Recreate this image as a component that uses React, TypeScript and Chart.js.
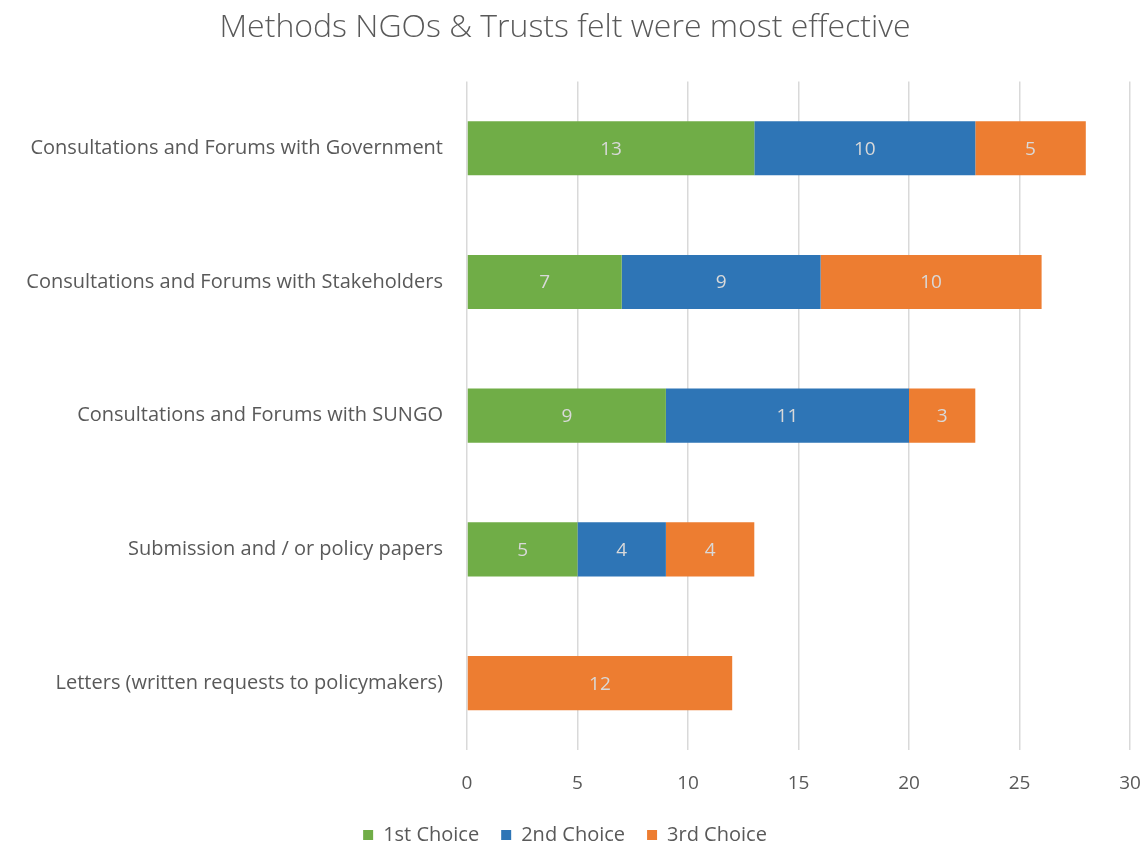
import { useEffect, useRef } from "react";
import { Chart, registerables } from "chart.js";

Chart.register(...registerables);

const title = "Methods NGOs & Trusts felt were most effective";
const categories = [
  "Consultations and Forums with Government",
  "Consultations and Forums with Stakeholders",
  "Consultations and Forums with SUNGO",
  "Submission and / or policy papers",
  "Letters (written requests to policymakers)",
];
const seriesNames = ["1st Choice", "2nd Choice", "3rd Choice"];
const firstChoice = [13, 7, 9, 5, 0];
const secondChoice = [10, 9, 11, 4, 0];
const thirdChoice = [5, 10, 3, 4, 12];
const xMin = 0;
const xMax = 30;
const xStep = 5;

const colors = ["#70AD47", "#2E75B6", "#ED7D31"];
const FONT = "'Open Sans', Lato, sans-serif";
const TEXT = "#595959";

const barLabels = {
  id: "barLabels",
  afterDatasetsDraw(chart: any) {
    const ctx = chart.ctx;
    ctx.save();
    ctx.font = `19px ${FONT}`;
    ctx.fillStyle = "#D9D9D9";
    ctx.textAlign = "center";
    ctx.textBaseline = "middle";
    chart.data.datasets.forEach((ds: any, i: number) => {
      const meta = chart.getDatasetMeta(i);
      meta.data.forEach((el: any, j: number) => {
        const v = ds.data[j];
        if (!v) return;
        ctx.fillText(String(v), (el.x + el.base) / 2, el.y + 1);
      });
    });
    ctx.restore();
  },
};

const legendShift = {
  id: "legendShift",
  afterLayout(chart: any) {
    const lg = chart.legend;
    if (lg) {
      lg.top += 9;
      lg.bottom += 9;
    }
  },
};

export default function App() {
  const ref = useRef<HTMLCanvasElement>(null);
  useEffect(() => {
    document.body.style.margin = "0";
    const chart = new Chart(ref.current!, {
      type: "bar",
      data: {
        labels: categories,
        datasets: [firstChoice, secondChoice, thirdChoice].map((d, i) => ({
          label: seriesNames[i],
          data: d,
          backgroundColor: colors[i],
          borderWidth: 0,
          categoryPercentage: 1,
          barPercentage: 0.405,
        })),
      },
      options: {
        indexAxis: "y",
        responsive: false,
        animation: false,
        layout: { padding: { left: 0, right: 18, top: 0, bottom: 0 } },
        scales: {
          x: {
            stacked: true,
            min: xMin,
            max: xMax,
            ticks: { stepSize: xStep, color: TEXT, font: { family: FONT, size: 19 }, padding: 22 },
            grid: { color: "#D9D9D9", lineWidth: 1.5, drawTicks: false },
            border: { display: false },
            afterFit: (s: any) => {
              s.height = 44;
              s.paddingLeft = 0;
              s.paddingRight = 0;
            },
          },
          y: {
            stacked: true,
            ticks: { color: TEXT, font: { family: FONT, size: 20 }, padding: 24 },
            grid: { display: false, drawTicks: false },
            border: { display: false },
            afterFit: (s: any) => {
              s.width = 467;
            },
          },
        },
        plugins: {
          title: {
            display: true,
            text: title,
            color: TEXT,
            font: { family: FONT, size: 32, weight: "300" as any },
            padding: { top: 9, bottom: 34 },
          },
          legend: {
            position: "bottom",
            labels: {
              color: TEXT,
              font: { family: FONT, size: 20 },
              boxWidth: 10,
              boxHeight: 10,
              padding: 22,
            },
          },
          tooltip: { enabled: false },
        },
      },
      plugins: [barLabels, legendShift],
    });
    return () => chart.destroy();
  }, []);
  return <canvas ref={ref} width={1148} height={846} style={{ display: "block" }} />;
}
